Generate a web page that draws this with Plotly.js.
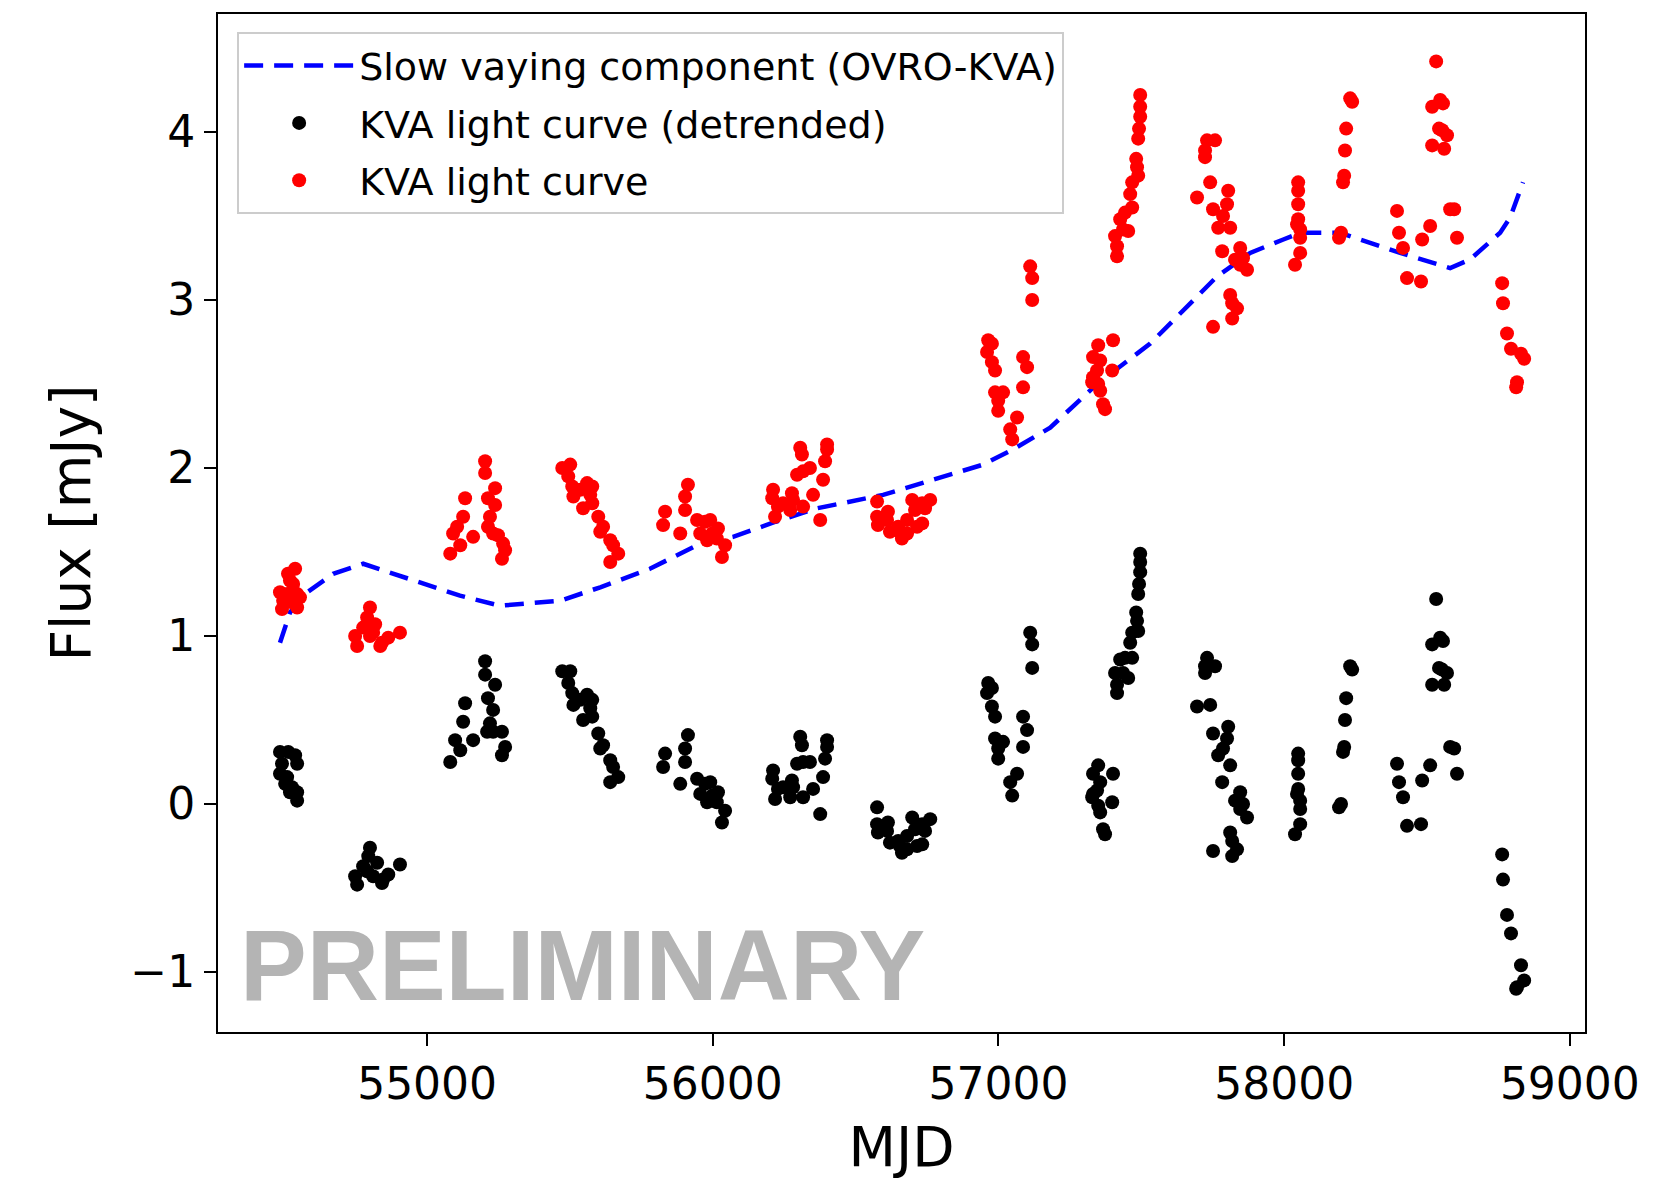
<!DOCTYPE html>
<html>
<head>
<meta charset="utf-8">
<script src="https://cdn.plot.ly/plotly-3.0.1.min.js"></script>
<style>html,body{margin:0;padding:0;background:#fff}</style>
</head>
<body>
<div id="chart" style="width:1670px;height:1181px"></div>
<script>
// Slow varying component (OVRO-KVA)
const trendMJD = [54485,54520,54580,54671,54776,54905,55115,55255,55466,55606,55780,55956,56071,56220,56365,56596,56771,56946,57051,57181,57345,57531,57765,57881,57997,58056,58196,58406,58581,58650,58756,58791,58836];
const trendFlux = [0.96,1.14,1.26,1.37,1.43,1.36,1.24,1.18,1.21,1.29,1.40,1.55,1.59,1.68,1.76,1.84,1.93,2.02,2.11,2.24,2.50,2.74,3.14,3.28,3.36,3.40,3.40,3.28,3.19,3.24,3.40,3.49,3.70];

// KVA light curve
const redMJD = [
54538,54513,54520,54531,54485,54510,54545,54555,54496,54527,54492,54545,
54800,54790,54818,54776,54748,54755,54800,54842,54864,54905,54836,54811,
55203,55203,55133,55238,55213,55238,55126,55220,55105,55213,55161,55091,55248,55266,55116,55081,55273,55262,55231,
55473,55501,55494,55508,55560,55578,55512,55571,55546,55578,55599,55616,55606,55641,55651,55669,55641,55536,
55833,55826,55886,55913,55903,55903,55945,55973,55991,55956,55998,56018,56014,56043,56032,55980,
56306,56312,56400,56400,56393,56340,56316,56295,56386,56351,56211,56208,56277,56281,56246,56316,56271,56218,56376,56228,
56575,56575,56578,56613,56610,56620,56649,56662,56655,56680,56698,56708,56715,56733,56733,56761,56743,56680,
56964,56977,56960,56977,56988,56988,57016,56999,56999,57065,57041,57048,57086,57100,57086,57111,57118,57118,
57349,57401,57331,57356,57345,57398,57331,57349,57356,57366,57373,57328,
57496,57496,57496,57492,57489,57482,57485,57489,57468,57461,57468,57443,57426,57454,57408,57415,57415,57436,
57730,57758,57723,57723,57741,57695,57804,57751,57800,57786,57769,57811,57783,57751,57811,57818,57835,57818,
57846,57828,57856,57870,57846,
58049,58049,58049,58049,58056,58056,58056,58038,58045,
58231,58238,58217,58213,58210,58206,58199,58192,
58395,58402,58416,58430,58479,58483,58511,
58532,58546,58518,58556,58542,58570,58553,58518,58560,
58581,58595,58605,
58763,58766,58780,58794,58829,58840,58815,58812];
const redFlux = [
1.40,1.37,1.33,1.31,1.26,1.25,1.25,1.23,1.21,1.20,1.16,1.17,
1.17,1.11,1.07,1.05,1.00,0.94,1.00,0.96,0.99,1.02,0.94,1.02,
2.04,1.97,1.82,1.88,1.82,1.78,1.71,1.71,1.65,1.65,1.59,1.61,1.60,1.55,1.54,1.49,1.51,1.46,1.61,
2.00,2.02,1.95,1.89,1.91,1.89,1.83,1.84,1.76,1.79,1.71,1.65,1.62,1.57,1.54,1.49,1.44,1.87,
1.74,1.66,1.61,1.90,1.83,1.75,1.69,1.68,1.69,1.61,1.61,1.64,1.58,1.54,1.47,1.57,
2.12,2.08,2.14,2.11,2.04,2.00,1.98,1.96,1.93,1.84,1.87,1.82,1.85,1.81,1.79,1.77,1.75,1.71,1.69,1.77,
1.80,1.71,1.66,1.74,1.69,1.62,1.65,1.58,1.62,1.69,1.81,1.75,1.65,1.67,1.79,1.81,1.76,1.61,
2.76,2.74,2.69,2.63,2.58,2.45,2.45,2.40,2.34,2.30,2.23,2.17,2.66,2.60,2.48,3.20,3.13,3.00,
2.73,2.76,2.66,2.64,2.58,2.58,2.54,2.50,2.46,2.38,2.35,2.51,
4.22,4.15,4.09,4.02,3.96,3.84,3.79,3.74,3.70,3.63,3.55,3.52,3.48,3.41,3.38,3.32,3.26,3.42,
3.95,3.95,3.89,3.85,3.70,3.61,3.65,3.54,3.57,3.50,3.43,3.43,3.29,2.84,3.03,2.98,2.95,2.89,
3.31,3.24,3.25,3.18,3.21,
3.70,3.65,3.57,3.48,3.42,3.37,3.28,3.21,3.45,
4.20,4.18,4.02,3.89,3.74,3.70,3.40,3.37,
3.53,3.40,3.31,3.13,3.11,3.36,3.44,
4.42,4.19,4.15,4.17,4.02,3.98,4.01,3.92,3.90,
3.54,3.54,3.37,
3.10,2.98,2.80,2.71,2.68,2.65,2.51,2.48];

// KVA light curve (detrended)
const detMJD = [
54485,54514,54538,54492,54545,54485,54510,54503,54527,54545,54545,54520,
54800,54794,54825,54776,54748,54755,54811,54842,54864,54905,54846,54790,
55203,55203,55133,55238,55213,55231,55126,55220,55098,55210,55161,55116,55081,55262,55273,55262,55231,
55473,55501,55494,55508,55560,55578,55512,55571,55546,55578,55599,55616,55606,55641,55651,55669,55641,55536,
55833,55826,55886,55913,55903,55903,55945,55973,55991,55956,55998,56018,56014,56043,56032,55980,
56306,56312,56400,56400,56393,56340,56316,56295,56386,56351,56211,56208,56277,56281,56246,56316,56271,56218,56376,56228,
56575,56575,56578,56613,56610,56620,56649,56662,56655,56680,56698,56708,56715,56733,56733,56761,56743,56680,
56964,56977,56960,56977,56988,56988,57016,56999,56999,57065,57041,57048,57086,57100,57086,57111,57118,57118,
57349,57401,57331,57356,57345,57398,57331,57349,57356,57366,57373,57328,
57496,57496,57496,57492,57489,57482,57485,57489,57468,57461,57468,57443,57426,57454,57408,57415,57415,57436,
57730,57758,57723,57723,57741,57695,57804,57751,57800,57786,57769,57811,57783,57751,57811,57818,57835,57818,
57846,57828,57856,57870,57846,
58049,58049,58049,58049,58056,58056,58056,58038,58045,
58231,58238,58217,58213,58210,58206,58199,58192,
58395,58402,58416,58430,58479,58483,58511,
58532,58546,58518,58556,58542,58570,58553,58518,58560,
58581,58595,58605,
58763,58766,58780,58794,58829,58840,58815,58812];
const detFlux = [
0.31,0.31,0.29,0.24,0.24,0.18,0.16,0.12,0.10,0.07,0.02,0.07,
-0.26,-0.31,-0.35,-0.37,-0.43,-0.48,-0.43,-0.47,-0.42,-0.36,-0.45,-0.40,
0.85,0.77,0.60,0.71,0.63,0.56,0.49,0.48,0.38,0.43,0.38,0.32,0.25,0.43,0.34,0.29,0.43,
0.79,0.79,0.72,0.66,0.65,0.62,0.59,0.57,0.50,0.52,0.42,0.35,0.33,0.26,0.22,0.16,0.13,0.62,
0.30,0.22,0.12,0.41,0.33,0.25,0.15,0.12,0.13,0.06,0.05,0.07,0.01,-0.04,-0.11,0.01,
0.40,0.35,0.38,0.34,0.27,0.25,0.25,0.24,0.16,0.09,0.20,0.15,0.14,0.10,0.10,0.04,0.04,0.03,-0.06,0.09,
-0.02,-0.12,-0.17,-0.11,-0.16,-0.23,-0.22,-0.29,-0.25,-0.19,-0.08,-0.15,-0.25,-0.24,-0.12,-0.09,-0.16,-0.27,
0.72,0.69,0.66,0.58,0.52,0.39,0.37,0.33,0.27,0.18,0.13,0.05,0.52,0.44,0.34,1.02,0.95,0.81,
0.23,0.18,0.18,0.13,0.08,0.01,0.06,-0.01,-0.05,-0.15,-0.18,0.04,
1.49,1.44,1.38,1.31,1.25,1.14,1.09,1.03,1.02,0.96,0.87,0.87,0.86,0.75,0.78,0.71,0.66,0.78,
0.87,0.82,0.82,0.78,0.59,0.58,0.46,0.42,0.39,0.33,0.29,0.23,0.13,-0.28,-0.17,-0.22,-0.27,-0.31,
0.07,0.02,0.00,-0.08,-0.03,
0.30,0.26,0.18,0.09,0.02,-0.03,-0.12,-0.18,0.06,
0.82,0.80,0.63,0.50,0.34,0.31,0.00,-0.02,
0.24,0.13,0.04,-0.13,-0.12,0.14,0.23,
1.22,0.99,0.95,0.97,0.81,0.78,0.80,0.71,0.71,
0.34,0.33,0.18,
-0.30,-0.45,-0.66,-0.77,-0.96,-1.05,-1.09,-1.10];

const xTicks = [55000,56000,57000,58000,59000];
const yTicks = [-1,0,1,2,3,4];

const traces = [
  {x: trendMJD, y: trendFlux, type:'scatter', mode:'lines', name:'Slow vaying component (OVRO-KVA)',
   line:{color:'#0000ff', width:4.5, dash:'19px,11px'}, legendgroup:'a'},
  {x: detMJD, y: detFlux, type:'scatter', mode:'markers', name:'KVA light curve (detrended)',
   marker:{color:'#000000', size:14}, legendgroup:'b'},
  {x: redMJD, y: redFlux, type:'scatter', mode:'markers', name:'KVA light curve',
   marker:{color:'#ff0000', size:14}, legendgroup:'c'}
];

const axisCommon = {
  showgrid:false, zeroline:false, showline:true, mirror:true, linecolor:'#000', linewidth:2,
  ticks:'outside', ticklen:12, tickwidth:2, tickcolor:'#000',
  tickfont:{family:'DejaVu Sans', size:44, color:'#000'}
};

const layout = {
  width:1670, height:1181,
  margin:{l:218, r:85, t:14, b:149},
  paper_bgcolor:'#fff', plot_bgcolor:'#fff',
  showlegend:true,
  xaxis: Object.assign({}, axisCommon, {
    range:[54268, 59053], tickvals:xTicks, ticktext:xTicks.map(String),
    title:{text:'MJD', font:{family:'DejaVu Sans', size:55, color:'#000'}, standoff:20}
  }),
  yaxis: Object.assign({}, axisCommon, {
    range:[-1.357, 4.702], tickvals:yTicks, ticktext:yTicks.map(v => v < 0 ? '\u2212' + Math.abs(v) : String(v)),
    title:{text:'Flux [mJy]', font:{family:'DejaVu Sans', size:55, color:'#000'}, standoff:22}
  }),
  legend:{
    x:0.014, y:0.982, xanchor:'left', yanchor:'top',
    font:{family:'DejaVu Sans', size:38, color:'#000'},
    bgcolor:'rgba(255,255,255,0.8)', bordercolor:'#cccccc', borderwidth:2,
    itemwidth:110, traceorder:'grouped', tracegroupgap:5
  },
  annotations:[{
    xref:'paper', yref:'paper', x:0.0143, y:0.066, xanchor:'left', yanchor:'middle',
    text:'<b>PRELIMINARY</b>', showarrow:false,
    font:{family:'Liberation Sans', size:100, color:'#b4b4b4'}
  }]
};

Plotly.newPlot('chart', traces, layout, {displayModeBar:false, staticPlot:true});
</script>
</body>
</html>
